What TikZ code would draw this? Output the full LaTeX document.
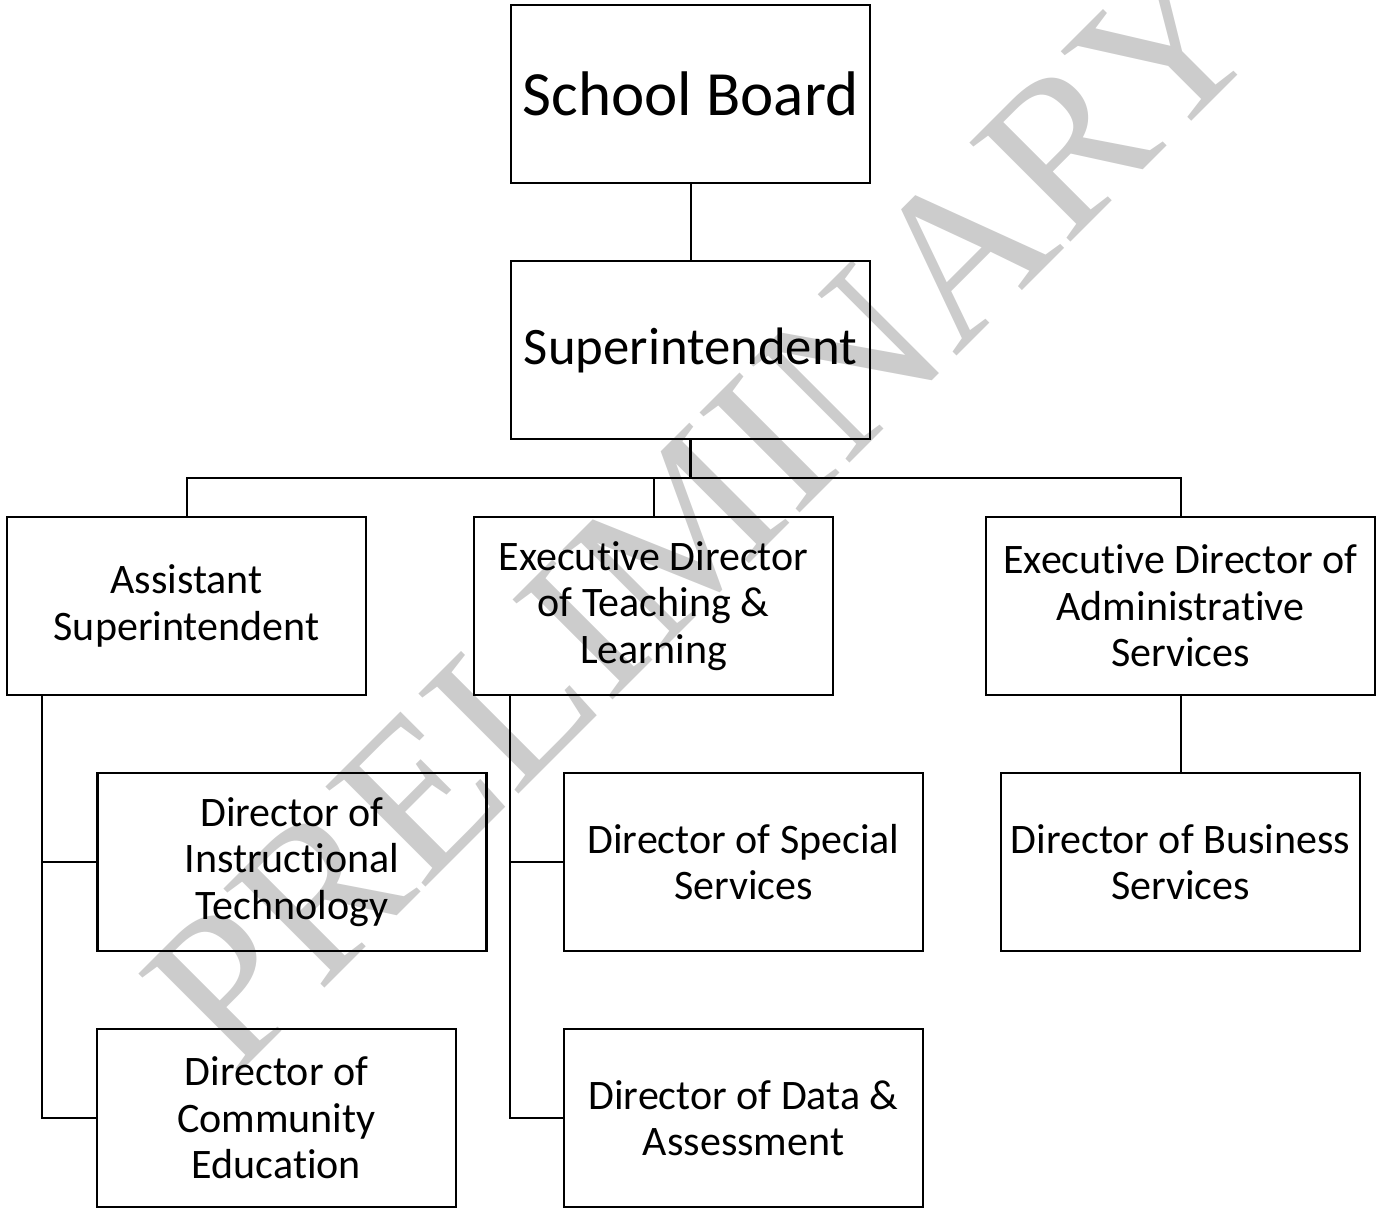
\documentclass[tikz,border=0pt]{standalone}
\usepackage{fontspec}
\setmainfont{Carlito}[Ligatures=NoCommon]
\newfontfamily\wmfont{Liberation Serif}
\definecolor{wmgray}{HTML}{CCCCCC}
\begin{document}
\begin{tikzpicture}[x=1pt,y=-1pt,
  box/.style={draw, line width=2.5pt, inner sep=0pt, align=center, minimum width=359pt, minimum height=178pt},
  widebox/.style={box, minimum width=389pt},
  bodytxt/.style={font=\fontsize{42}{46.5}\selectfont},
  conn/.style={line width=2pt}]
\useasboundingbox (0,0) rectangle (1378,1212);
% watermark
\node[text=wmgray, font=\wmfont\fontsize{216}{216}\selectfont, rotate=45, anchor=base, inner sep=0pt] (wm) at (752,561) {PRELIMINARY};
% boxes
\node[box, font=\fontsize{63}{70}\selectfont] (sb) at (690.5,94) {School Board};
\node[box, font=\fontsize{52.7}{60}\selectfont] (sup) at (690.5,350) {Superintendent};
\node[box, bodytxt] (asst) at (186.5,606) {Assistant\\Superintendent};
\node[box, bodytxt] (extl) at (653.5,606) {Executive Director\\of Teaching \&\\Learning};
\node[widebox, bodytxt] (exadm) at (1180.5,606) {Executive Director of\\Administrative\\Services};
\node[widebox, bodytxt] (instr) at (292,862) {Director of\\Instructional\\Technology};
\node[box, bodytxt] (comm) at (276.5,1118) {Director of\\Community\\Education};
\node[box, bodytxt] (spec) at (743.5,862) {Director of Special\\Services};
\node[box, bodytxt] (data) at (743.5,1118) {Director of Data \&\\Assessment};
\node[box, bodytxt] (bus) at (1180.5,862) {Director of Business\\Services};
% connectors
\draw[conn] (sb.south) -- (sup.north);
\draw[line width=3pt] (sup.south) -- ++(0,38) coordinate (bar);
\draw[conn] (asst.north) -- (asst.north |- bar) -- (exadm.north |- bar) -- (exadm.north);
\draw[conn] (extl.north) -- (extl.north |- bar);
\coordinate (lspine) at (42,696);
\coordinate (mspine) at (510,696);
\draw[conn] (lspine) |- (instr.west);
\draw[conn] (lspine) |- (comm.west);
\draw[conn] (mspine) |- (spec.west);
\draw[conn] (mspine) |- (data.west);
\draw[conn] (exadm.south) -- (bus.north);
\end{tikzpicture}
\end{document}
